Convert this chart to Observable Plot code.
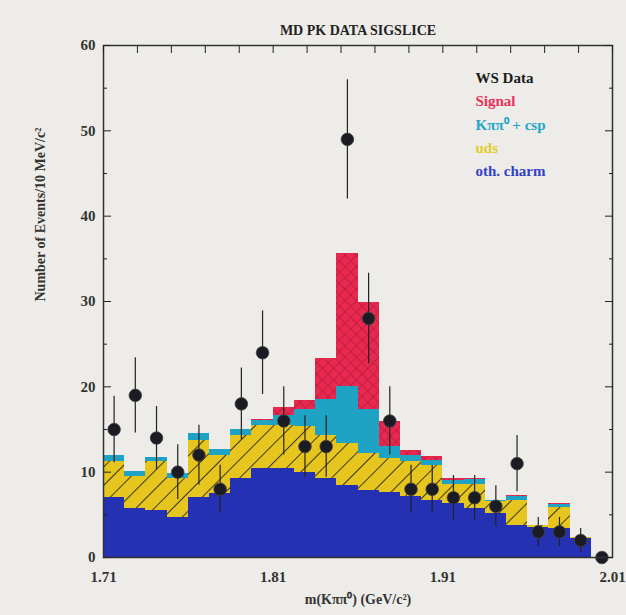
<!DOCTYPE html>
<html><head><meta charset="utf-8">
<script src="https://cdn.jsdelivr.net/npm/d3@7"></script>
<script src="https://cdn.jsdelivr.net/npm/@observablehq/plot@0.6"></script>
<style>
body{margin:0;background:#eeece8;}
#chart svg{display:block;background:#eeece8;}
</style></head><body><div id="chart"></div>
<script>
// Bin edges in m(Kππ0) (GeV/c^2)
const binEdges = [1.71,1.7225,1.735,1.7475,1.76,1.7725,1.785,1.7975,1.81,1.8225,1.835,1.8475,1.86,1.8725,1.885,1.8975,1.91,1.9225,1.935,1.9475,1.96,1.9725,1.985,1.9975,2.01];
// Stacked components per bin (bottom -> top)
const othCharm = [7.0,5.8,5.5,4.7,7.0,7.5,9.3,10.4,10.4,10.0,9.2,8.4,7.9,7.6,7.1,6.7,6.3,5.7,5.1,3.8,3.5,3.4,2.2,0];
const uds      = [4.3,3.7,5.7,4.6,6.7,4.5,5.0,5.1,5.1,5.3,5.1,5.0,4.3,4.0,4.1,4.1,2.3,2.9,1.5,2.9,0.2,2.5,0.2,0];
const kpipi0   = [0.6,0.6,0.5,0.6,0.8,0.6,0.7,0.6,1.1,2.0,4.2,6.6,5.1,1.4,0.8,0.6,0.4,0.5,0.1,0.4,0,0.3,0,0];
const signal   = [0,0,0,0,0,0,0,0.1,1.0,1.1,4.8,15.6,12.6,2.9,0.5,0.4,0.2,0.1,0,0.2,0,0.1,0,0];
// WS data points and errors
const wsData   = [15,19,14,10,12,8,18,24,16,13,13,49,28,16,8,8,7,7,6,11,3,3,2,0];
const wsErr    = [3.9,4.4,3.7,3.2,3.5,2.8,4.2,4.9,4.0,3.6,3.6,7.0,5.3,4.0,2.8,2.8,2.6,2.6,2.4,3.3,1.7,1.7,1.4,0];
// Ticks
const xTickLabels = [1.71,1.81,1.91,2.01];
const xMinorTicks = [1.71,1.73,1.75,1.77,1.79,1.81,1.83,1.85,1.87,1.89,1.91,1.93,1.95,1.97,1.99,2.01];
const yTickLabels = [0,10,20,30,40,50,60];
const yMinorTicks = [5,15,25,35,45,55];
// Legend
const legendLabels = ["WS Data","Signal","K\u03c0\u03c0\u2070 + csp","uds","oth. charm"];
const legendColors = ["#1a1a1a","#e8305a","#1fa6c8","#e2cc2a","#3340c8"];

const rows = binEdges.slice(0,-1).map((lo,i)=>({lo, hi: binEdges[i+1], mid:(lo+binEdges[i+1])/2, i}));
const layerDefs = [
  {values: othCharm, fill: "#2431b3"},
  {values: uds, fill: "url(#hatchY)"},
  {values: kpipi0, fill: "#1fa3c4"},
  {values: signal, fill: "url(#hatchR)"}
];
const stacked = layerDefs.map(() => []);
rows.forEach(r => {
  let base = 0;
  layerDefs.forEach((L, k) => {
    const v = L.values[r.i];
    if (v > 0) stacked[k].push({lo: r.lo, hi: r.hi, y1: base, y2: base + v});
    base += v;
  });
});
const points = rows.map(r => ({x: r.mid, v: wsData[r.i], e: wsErr[r.i]}));

const serif = "Liberation Serif, Times New Roman, serif";
const chart = Plot.plot({
  width: 626, height: 615,
  marginLeft: 103, marginRight: 14, marginTop: 45, marginBottom: 58,
  style: {fontFamily: serif, fontSize: "15px", color: "#222", background: "#eeece8"},
  x: {domain: [1.71, 2.01]},
  y: {domain: [0, 60]},
  marks: [
    ...layerDefs.map((L, k) => Plot.rect(stacked[k], {x1: "lo", x2: "hi", y1: "y1", y2: "y2", fill: L.fill, shapeRendering: "crispEdges"})),
    Plot.ruleX(points.filter(d => d.e > 0), {x: "x", y1: d => d.v - d.e, y2: d => d.v + d.e, stroke: "#222", strokeWidth: 1.2}),
    Plot.dot(points, {x: "x", y: "v", r: 6.3, fill: "#1b1b24", stroke: "#444", strokeWidth: 0.8}),
    Plot.frame({stroke: "#333", strokeWidth: 1.5}),
    Plot.axisY({ticks: yTickLabels, tickSize: 0, tickPadding: 8, label: null, fontSize: 15, fontWeight: "bold", fill: "#333"}),
    Plot.axisY({ticks: yTickLabels, tickSize: -8, tickFormat: () => "", label: null}),
    Plot.axisY({ticks: yMinorTicks, tickSize: -4, tickFormat: () => "", label: null}),
    Plot.axisY({anchor: "right", ticks: yTickLabels, tickSize: -8, tickFormat: () => "", label: null}),
    Plot.axisY({anchor: "right", ticks: yMinorTicks, tickSize: -4, tickFormat: () => "", label: null}),
    Plot.axisX({ticks: xTickLabels, tickSize: 0, tickPadding: 14, tickFormat: d => d.toFixed(2), label: null, fontSize: 15, fontWeight: "bold", fill: "#333"}),
    Plot.axisX({anchor: "top", ticks: xMinorTicks, tickSize: -7, tickFormat: () => "", label: null}),
    Plot.text(["MD PK DATA SIGSLICE"], {frameAnchor: "top", dy: -20, fontWeight: "bold", fontSize: 14, fill: "#222"}),
    Plot.text(["Number of Events/10 MeV/c\u00b2"], {frameAnchor: "left", rotate: -90, dx: -63, fontSize: 14, fontWeight: "bold", fill: "#333"}),
    Plot.text(["m(K\u03c0\u03c0\u2070) (GeV/c\u00b2)"], {frameAnchor: "bottom", dy: 46, fontSize: 14, fontWeight: "bold", fill: "#333"}),
    ...legendLabels.map((t, i) => Plot.text([t], {frameAnchor: "top-right", textAnchor: "start", dx: -137, dy: 27 + 23.3 * i, fontSize: 15, fontWeight: "bold", fill: legendColors[i]}))
  ]
});

// Hatch patterns
const svg = d3.select(chart.tagName.toLowerCase() === "svg" ? chart : chart.querySelector("svg"));
const defs = svg.insert("defs", ":first-child");
const py = defs.append("pattern").attr("id","hatchY").attr("patternUnits","userSpaceOnUse")
  .attr("width",13).attr("height",13).attr("patternTransform","rotate(45)");
py.append("rect").attr("width",13).attr("height",13).attr("fill","#e6c51e");
py.append("line").attr("x1",0).attr("y1",0).attr("x2",0).attr("y2",13).attr("stroke","#3e3812").attr("stroke-width",2);
const pr = defs.append("pattern").attr("id","hatchR").attr("patternUnits","userSpaceOnUse")
  .attr("width",8).attr("height",8).attr("patternTransform","rotate(45)");
pr.append("rect").attr("width",8).attr("height",8).attr("fill","#e8294f");
pr.append("line").attr("x1",0).attr("y1",0).attr("x2",0).attr("y2",8).attr("stroke","#b8173e").attr("stroke-width",1.4);
pr.append("line").attr("x1",0).attr("y1",0).attr("x2",8).attr("y2",0).attr("stroke","#b8173e").attr("stroke-width",1.4);

document.getElementById("chart").append(chart);
</script></body></html>
